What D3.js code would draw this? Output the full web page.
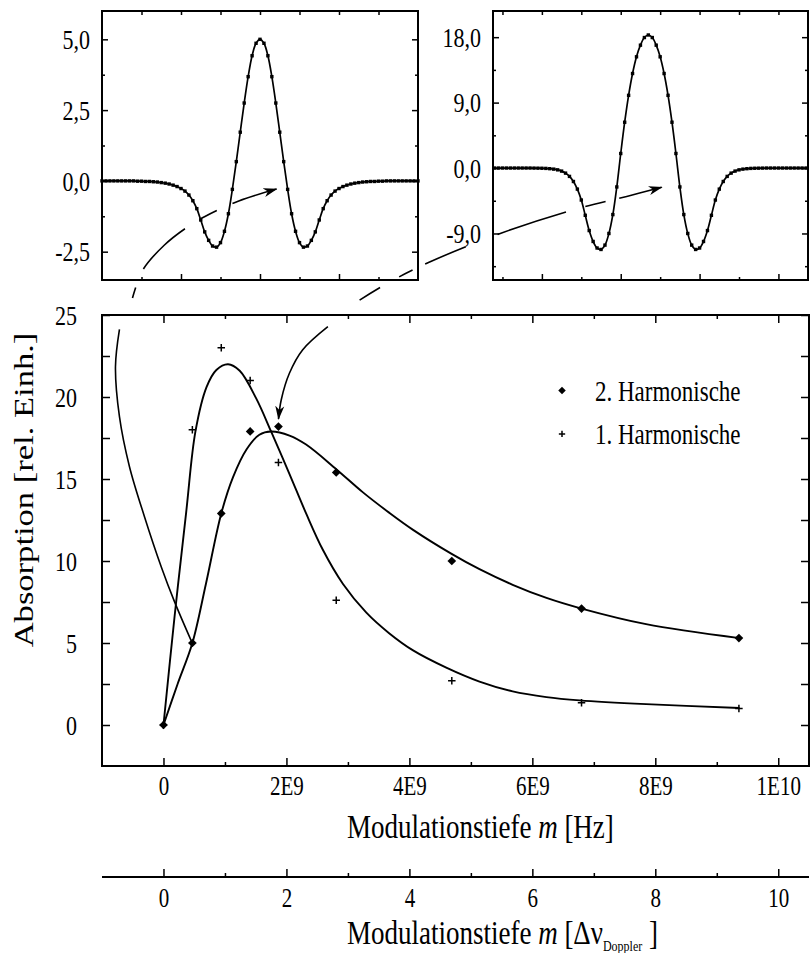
<!DOCTYPE html>
<html><head><meta charset="utf-8">
<script src="https://cdn.jsdelivr.net/npm/d3@7"></script>
<style>
body{margin:0;background:#fff}
svg{display:block}
text{font-family:"Liberation Serif","Times New Roman",serif;fill:#000}
.sy{transform-box:fill-box;transform-origin:center;transform:scaleY(1.28)}
.sx{transform-box:fill-box;transform-origin:center;transform:scaleX(1.28)}
</style>
</head><body>
<svg id="chart" width="812" height="953"></svg>
<script>
// ---------------- DATA ----------------
// main chart: measured points
const freqHz = [0, 0.47e9, 0.94e9, 1.41e9, 1.87e9, 2.81e9, 4.69e9, 6.80e9, 9.36e9];
const harm2 = [0, 5.0, 12.9, 17.9, 18.2, 15.4, 10.0, 7.1, 5.3];
const harm1 = [0, 18.0, 23.0, 21.0, 16.0, 7.6, 2.7, 1.35, 1.0];
// fitted curves
const fit1X = [0, 0.18e9, 0.37e9, 0.52e9, 0.70e9, 0.86e9, 1.05e9, 1.24e9, 1.51e9, 1.75e9, 2.05e9, 2.32e9, 2.59e9, 2.92e9, 3.30e9, 3.67e9, 4.06e9, 4.60e9, 5.14e9, 5.68e9, 6.23e9, 6.77e9, 7.85e9, 9.37e9];
const fit1Y = [0, 6.6, 13.0, 17.9, 20.6, 21.65, 22.0, 21.6, 19.9, 17.9, 15.3, 12.9, 10.7, 8.6, 6.85, 5.6, 4.55, 3.5, 2.65, 2.05, 1.7, 1.5, 1.27, 1.04];
const fit2X = [0, 0.23e9, 0.47e9, 0.69e9, 0.94e9, 1.13e9, 1.35e9, 1.56e9, 1.75e9, 2.05e9, 2.32e9, 2.81e9, 3.24e9, 3.67e9, 4.06e9, 4.68e9, 5.14e9, 5.68e9, 6.23e9, 6.80e9, 7.85e9, 9.37e9];
const fit2Y = [0, 2.5, 5.0, 8.6, 12.9, 15.1, 16.8, 17.7, 17.9, 17.65, 17.1, 15.6, 14.2, 12.95, 11.9, 10.45, 9.5, 8.55, 7.75, 7.1, 6.15, 5.3];
const seriesNames = ["2. Harmonische", "1. Harmonische"];

// axis ticks
const xMajorTicks = [0, 2e9, 4e9, 6e9, 8e9, 1e10];
const xMajorLabels = ["0", "2E9", "4E9", "6E9", "8E9", "1E10"];
const xMinorTicks = [1e9, 3e9, 5e9, 7e9, 9e9];
const yMajorTicks = [0, 5, 10, 15, 20, 25];
const yMinorTicks = [2.5, 7.5, 12.5, 17.5, 22.5];
const dopplerMajor = [0, 2, 4, 6, 8, 10];
const dopplerMinor = [1, 3, 5, 7, 9];

// inset 1 (left)
const inset1X = [-4.0,-3.9,-3.8,-3.7,-3.6,-3.5,-3.4,-3.3,-3.2,-3.1,-3.0,-2.9,-2.8,-2.7,-2.6,-2.5,-2.4,-2.3,-2.2,-2.1,-2.0,-1.9,-1.8,-1.7,-1.6,-1.5,-1.4,-1.3,-1.2,-1.1,-1.0,-0.9,-0.8,-0.7,-0.6,-0.5,-0.4,-0.3,-0.2,-0.1,0.0,0.1,0.2,0.3,0.4,0.5,0.6,0.7,0.8,0.9,1.0,1.1,1.2,1.3,1.4,1.5,1.6,1.7,1.8,1.9,2.0,2.1,2.2,2.3,2.4,2.5,2.6,2.7,2.8,2.9,3.0,3.1,3.2,3.3,3.4,3.5,3.6,3.7,3.8,3.9,4.0];
const inset1Y = [0,0,0,0,0,0,0,0,0,-0.01,-0.01,-0.02,-0.02,-0.03,-0.04,-0.06,-0.08,-0.11,-0.15,-0.20,-0.27,-0.36,-0.50,-0.70,-0.98,-1.38,-1.80,-2.10,-2.30,-2.34,-2.18,-1.78,-1.16,-0.30,0.68,1.72,2.75,3.68,4.42,4.86,5.00,4.86,4.42,3.68,2.75,1.72,0.68,-0.30,-1.16,-1.78,-2.18,-2.34,-2.30,-2.10,-1.80,-1.38,-0.98,-0.70,-0.50,-0.36,-0.27,-0.20,-0.15,-0.11,-0.08,-0.06,-0.04,-0.03,-0.02,-0.02,-0.01,-0.01,0,0,0,0,0,0,0,0,0];
const inset1YTicks = [-2.5, 0, 2.5, 5];
const inset1YLabels = ["-2,5", "0,0", "2,5", "5,0"];
const inset1YMinor = [-1.25, 1.25, 3.75];
const inset1XMajor = [-2, 0, 2];
const inset1XMinor = [-3, -1, 1, 3];

// inset 2 (right)
const inset2X = [-3.9,-3.8,-3.7,-3.6,-3.5,-3.4,-3.3,-3.2,-3.1,-3.0,-2.9,-2.8,-2.7,-2.6,-2.5,-2.4,-2.3,-2.2,-2.1,-2.0,-1.9,-1.8,-1.7,-1.6,-1.5,-1.4,-1.3,-1.2,-1.1,-1.0,-0.9,-0.8,-0.7,-0.6,-0.5,-0.4,-0.3,-0.2,-0.1,0.0,0.1,0.2,0.3,0.4,0.5,0.6,0.7,0.8,0.9,1.0,1.1,1.2,1.3,1.4,1.5,1.6,1.7,1.8,1.9,2.0,2.1,2.2,2.3,2.4,2.5,2.6,2.7,2.8,2.9,3.0,3.1,3.2,3.3,3.4,3.5,3.6,3.7,3.8,3.9,4.0];
const inset2Y = [0,0,0,0,0,0,0,0,0,0,-0.01,-0.02,-0.03,-0.05,-0.09,-0.15,-0.25,-0.42,-0.70,-1.15,-1.85,-2.9,-4.4,-6.5,-8.6,-10.1,-11.0,-11.2,-10.6,-9.0,-6.4,-2.6,2.0,6.3,10.0,13.0,15.3,16.9,17.95,18.3,17.95,16.9,15.3,13.0,10.0,6.3,2.0,-2.6,-6.4,-9.0,-10.6,-11.2,-11.0,-10.1,-8.6,-6.5,-4.4,-2.9,-1.85,-1.15,-0.70,-0.42,-0.25,-0.15,-0.09,-0.05,-0.03,-0.02,-0.01,0,0,0,0,0,0,0,0,0,0,0];
const inset2YTicks = [-9, 0, 9, 18];
const inset2YLabels = ["-9,0", "0,0", "9,0", "18,0"];
const inset2YMinor = [-13.5, -4.5, 4.5, 13.5];
const inset2XMajor = [-2.7, -0.7, 1.3, 3.3];
const inset2XMinor = [-3.7, -1.7, 0.3, 2.3];

// annotation paths (in main-chart data coordinates: Hz, absorption)
const arcLeftSolidX = [0.467e9, 0.179e9, -0.037e9, -0.309e9, -0.553e9, -0.716e9, -0.781e9, -0.716e9];
const arcLeftSolidY = [5.0, 7.52, 9.65, 12.70, 15.75, 18.80, 21.85, 24.13];
const arcLeftDashX = [-0.504e9, -0.337e9, 0.016e9, 0.395e9, 0.667e9, 1.225e9, 1.839e9];
const arcLeftDashY = [26.04, 27.74, 29.27, 30.38, 30.99, 31.95, 32.68];
const arcRightSolidX = [2.674e9, 2.262e9, 2.05e9, 1.915e9, 1.871e9];
const arcRightSolidY = [24.29, 22.87, 21.46, 19.82, 18.66];
const arcRightDashX = [3.19e9, 3.678e9, 4.329e9, 5.50e9, 6.656e9, 7.535e9, 8.104e9];
const arcRightDashY = [25.91, 27.01, 28.23, 30.0, 31.40, 32.23, 32.79];

// ---------------- DRAWING ----------------
const svg = d3.select("#chart");
const FONT = '"Liberation Serif","Times New Roman",serif';

const defs = svg.append("defs");
defs.append("marker").attr("id", "arrow")
  .attr("viewBox", "0 0 14 10").attr("refX", 13).attr("refY", 5)
  .attr("markerWidth", 14).attr("markerHeight", 10)
  .attr("markerUnits", "userSpaceOnUse").attr("orient", "auto")
  .append("path").attr("d", "M0,0.5 L14,5 L0,9.5 L4,5 Z").attr("fill", "#000");

// main scales
const M = {l: 102, r: 809, t: 315, b: 766};
const x = d3.scaleLinear().domain([-1.0e9, 1.05e10]).range([M.l, M.r]);
const y = d3.scaleLinear().domain([-2.5, 25]).range([M.b, M.t]);

function styleAxis(g, fs) {
  g.attr("font-family", FONT).attr("font-size", fs);
  g.select(".domain").remove();
  g.selectAll(".tick line").attr("stroke", "#000").attr("stroke-width", 1.5);
  g.selectAll(".tick text").attr("fill", "#000").attr("class", "sy");
}

const main = svg.append("g");
// ticks main
main.append("g").attr("transform", `translate(0,${M.b})`)
  .call(d3.axisBottom(x).tickValues(xMajorTicks).tickSize(-8).tickPadding(12).tickFormat((d, i) => xMajorLabels[i]))
  .call(g => styleAxis(g, 21));
main.append("g").attr("transform", `translate(0,${M.b})`)
  .call(d3.axisBottom(x).tickValues(xMinorTicks).tickSize(-4).tickFormat(""))
  .call(g => styleAxis(g, 21));
main.append("g").attr("transform", `translate(0,${M.t})`)
  .call(d3.axisTop(x).tickValues(xMajorTicks).tickSize(-8).tickFormat(""))
  .call(g => styleAxis(g, 21));
main.append("g").attr("transform", `translate(0,${M.t})`)
  .call(d3.axisTop(x).tickValues(xMinorTicks).tickSize(-4).tickFormat(""))
  .call(g => styleAxis(g, 21));
main.append("g").attr("transform", `translate(${M.l},0)`)
  .call(d3.axisLeft(y).tickValues(yMajorTicks).tickSize(-8).tickPadding(25).tickFormat(d3.format("d")))
  .call(g => styleAxis(g, 22));
main.append("g").attr("transform", `translate(${M.l},0)`)
  .call(d3.axisLeft(y).tickValues(yMinorTicks).tickSize(-8).tickFormat(""))
  .call(g => styleAxis(g, 22));
main.append("g").attr("transform", `translate(${M.r},0)`)
  .call(d3.axisRight(y).tickValues(yMajorTicks.concat(yMinorTicks)).tickSize(-8).tickFormat(""))
  .call(g => styleAxis(g, 22));
main.append("rect").attr("x", M.l).attr("y", M.t).attr("width", M.r - M.l).attr("height", M.b - M.t)
  .attr("fill", "none").attr("stroke", "#000").attr("stroke-width", 2);

// fit lines
const lineMain = d3.line().x(d => x(d[0])).y(d => y(d[1])).curve(d3.curveCatmullRom.alpha(0.5));
main.append("path").datum(d3.zip(fit1X, fit1Y)).attr("d", lineMain)
  .attr("fill", "none").attr("stroke", "#000").attr("stroke-width", 1.9);
main.append("path").datum(d3.zip(fit2X, fit2Y)).attr("d", lineMain)
  .attr("fill", "none").attr("stroke", "#000").attr("stroke-width", 1.9);

// symbols
const plusType = {draw(ctx, size) { const r = Math.sqrt(size) / 2; ctx.moveTo(-r, 0); ctx.lineTo(r, 0); ctx.moveTo(0, -r); ctx.lineTo(0, r); }};
const diamondPath = d3.symbol().type(d3.symbolSquare).size(38)();
const plusPath = d3.symbol().type(plusType).size(56)();

main.append("g").selectAll("path").data(d3.zip(freqHz, harm1)).join("path")
  .attr("transform", d => `translate(${x(d[0])},${y(d[1])})`)
  .attr("d", plusPath).attr("fill", "none").attr("stroke", "#000").attr("stroke-width", 1.5);
main.append("g").selectAll("path").data(d3.zip(freqHz, harm2)).join("path")
  .attr("transform", d => `translate(${x(d[0])},${y(d[1])}) rotate(45)`)
  .attr("d", diamondPath).attr("fill", "#000");

// legend
const leg = main.append("g").attr("font-family", FONT).attr("font-size", 23);
leg.append("path").attr("transform", `translate(562,${y(20.4)}) rotate(45)`).attr("d", d3.symbol().type(d3.symbolSquare).size(28)()).attr("fill", "#000");
leg.append("text").attr("class", "sy").attr("x", 595).attr("y", y(20.4)).attr("dy", "0.35em").text(seriesNames[0]);
leg.append("path").attr("transform", `translate(562,${y(17.75)})`).attr("d", d3.symbol().type(plusType).size(40)()).attr("fill", "none").attr("stroke", "#000").attr("stroke-width", 1.5);
leg.append("text").attr("class", "sy").attr("x", 595).attr("y", y(17.75)).attr("dy", "0.35em").text(seriesNames[1]);

// axis titles
svg.append("g").attr("transform", "translate(33,490) rotate(-90)")
  .append("text").attr("class", "sx").attr("font-family", FONT).attr("font-size", 27)
  .attr("text-anchor", "middle").text("Absorption [rel. Einh.]");
const tX = svg.append("text").attr("class", "sy").attr("font-family", FONT).attr("font-size", 27)
  .attr("x", 347).attr("y", 835).attr("text-anchor", "start");
tX.append("tspan").text("Modulationstiefe ");
tX.append("tspan").attr("font-style", "italic").text("m");
tX.append("tspan").text(" [Hz]");

// Doppler axis
const xd = d3.scaleLinear().domain([-1.0, 10.5]).range([M.l, M.r]);
const dAx = svg.append("g").attr("transform", "translate(0,877)");
dAx.append("line").attr("x1", M.l).attr("x2", M.r).attr("stroke", "#000").attr("stroke-width", 2);
dAx.append("g").call(d3.axisBottom(xd).tickValues(dopplerMajor).tickSize(-8).tickPadding(13).tickFormat(d3.format("d")))
  .call(g => styleAxis(g, 21));
dAx.append("g").call(d3.axisBottom(xd).tickValues(dopplerMinor).tickSize(-4).tickFormat(""))
  .call(g => styleAxis(g, 21));
const tX2 = svg.append("text").attr("class", "sy").attr("font-family", FONT).attr("font-size", 27)
  .attr("x", 347).attr("y", 942).attr("text-anchor", "start");
tX2.append("tspan").text("Modulationstiefe ");
tX2.append("tspan").attr("font-style", "italic").text("m");
tX2.append("tspan").text(" [Δν");
tX2.append("tspan").attr("font-size", 12).attr("dy", 5).text("Doppler");
tX2.append("tspan").attr("dy", -5).text(" ]");

// insets
function drawInset(box, xDom, yDom, xs, ys, yT, yL, yMin, xMaj, xMin) {
  const g = svg.append("g");
  const sx = d3.scaleLinear().domain(xDom).range([box.l, box.r]);
  const sy = d3.scaleLinear().domain(yDom).range([box.b, box.t]);
  g.append("g").attr("transform", `translate(${box.l},0)`)
    .call(d3.axisLeft(sy).tickValues(yT).tickSize(-6).tickPadding(12).tickFormat((d, i) => yL[i]))
    .call(a => styleAxis(a, 22));
  g.append("g").attr("transform", `translate(${box.l},0)`)
    .call(d3.axisLeft(sy).tickValues(yMin).tickSize(-3).tickFormat(""))
    .call(a => styleAxis(a, 22));
  g.append("g").attr("transform", `translate(${box.r},0)`)
    .call(d3.axisRight(sy).tickValues(yT).tickSize(-6).tickFormat(""))
    .call(a => styleAxis(a, 22));
  g.append("g").attr("transform", `translate(${box.r},0)`)
    .call(d3.axisRight(sy).tickValues(yMin).tickSize(-3).tickFormat(""))
    .call(a => styleAxis(a, 22));
  g.append("g").attr("transform", `translate(0,${box.b})`)
    .call(d3.axisBottom(sx).tickValues(xMaj).tickSize(-6).tickFormat(""))
    .call(a => styleAxis(a, 22));
  g.append("g").attr("transform", `translate(0,${box.b})`)
    .call(d3.axisBottom(sx).tickValues(xMin).tickSize(-3).tickFormat(""))
    .call(a => styleAxis(a, 22));
  g.append("g").attr("transform", `translate(0,${box.t})`)
    .call(d3.axisTop(sx).tickValues(xMaj.concat(xMin)).tickSize(-4).tickFormat(""))
    .call(a => styleAxis(a, 22));
  g.append("rect").attr("x", box.l).attr("y", box.t).attr("width", box.r - box.l).attr("height", box.b - box.t)
    .attr("fill", "none").attr("stroke", "#000").attr("stroke-width", 2);
  const pts = d3.zip(xs, ys);
  g.append("path").datum(pts).attr("d", d3.line().x(d => sx(d[0])).y(d => sy(d[1])).curve(d3.curveCatmullRom))
    .attr("fill", "none").attr("stroke", "#000").attr("stroke-width", 1.7);
  g.append("g").selectAll("rect").data(pts).join("rect")
    .attr("x", d => sx(d[0]) - 1.7).attr("y", d => sy(d[1]) - 1.7)
    .attr("width", 3.4).attr("height", 3.4).attr("fill", "#000");
}
drawInset({l: 102, r: 418, t: 11, b: 280}, [-4, 4], [-3.5, 6], inset1X, inset1Y,
  inset1YTicks, inset1YLabels, inset1YMinor, inset1XMajor, inset1XMinor);
drawInset({l: 493, r: 808, t: 11, b: 280}, [-3.94, 4.05], [-15.4, 21.6], inset2X, inset2Y,
  inset2YTicks, inset2YLabels, inset2YMinor, inset2XMajor, inset2XMinor);

// annotation arcs
const annLine = d3.line().x(d => x(d[0])).y(d => y(d[1])).curve(d3.curveCatmullRom.alpha(0.5));
const ann = svg.append("g").attr("fill", "none").attr("stroke", "#000").attr("stroke-width", 1.6);
ann.append("path").datum(d3.zip(arcLeftSolidX, arcLeftSolidY)).attr("d", annLine);
ann.append("path").datum(d3.zip(arcLeftDashX, arcLeftDashY)).attr("d", annLine)
  .attr("stroke-dasharray", "11,20,58,18,19,17,60").attr("marker-end", "url(#arrow)");
ann.append("path").datum(d3.zip(arcRightSolidX, arcRightSolidY)).attr("d", annLine)
  .attr("marker-end", "url(#arrow)");
ann.append("path").datum(d3.zip(arcRightDashX, arcRightDashY)).attr("d", annLine)
  .attr("stroke-dasharray", "24,22,15,14,44,34,72,20,21,14,60").attr("marker-end", "url(#arrow)");
</script>
</body></html>
